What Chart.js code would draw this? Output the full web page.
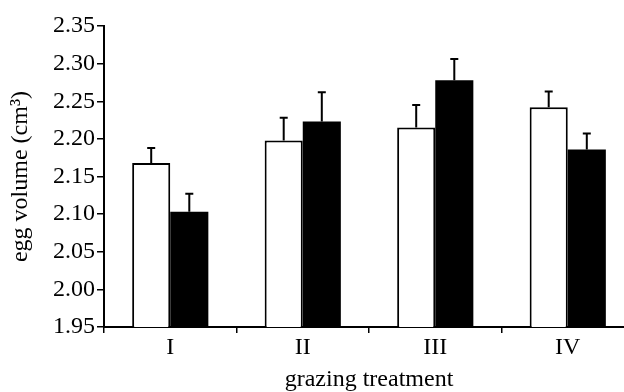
<!DOCTYPE html>
<html>
<head>
<meta charset="utf-8">
<script src="https://cdn.jsdelivr.net/npm/chart.js@4"></script>
<style>
  html, body { margin: 0; padding: 0; background: #fff; overflow: hidden; }
  #wrap { position: absolute; left: 0; top: 0; width: 640px; height: 392px; }
</style>
</head>
<body>
<div id="wrap"><canvas id="eggChart"></canvas></div>
<script>
// grazing treatments on the x axis
const categories = ['I', 'II', 'III', 'IV'];

// open bars and filled bars (means, then upper error)
const openMeans = [2.168, 2.198, 2.215, 2.242];
const openErr = [0.020, 0.030, 0.030, 0.021];
const filledMeans = [2.103, 2.223, 2.278, 2.186];
const filledErr = [0.024, 0.039, 0.028, 0.021];

// y axis range
const yMin = 1.95;
const yMax = 2.35;
const yStep = 0.05;

const FONT = "'Liberation Serif', 'Times New Roman', serif";

// draws the one-sided error bars on top of each bar
const errorBars = {
  id: 'errorBars',
  afterDatasetsDraw(chart) {
    const { ctx, scales: { y } } = chart;
    chart.data.datasets.forEach((ds, di) => {
      const meta = chart.getDatasetMeta(di);
      meta.data.forEach((bar, i) => {
        const top = y.getPixelForValue(ds.data[i] + ds.errors[i]);
        ctx.save();
        ctx.strokeStyle = '#000';
        ctx.lineWidth = 2;
        ctx.beginPath();
        ctx.moveTo(bar.x, bar.y);
        ctx.lineTo(bar.x, top);
        ctx.moveTo(bar.x - 4, top);
        ctx.lineTo(bar.x + 4, top);
        ctx.stroke();
        ctx.restore();
      });
    });
  }
};

const ctx = document.getElementById('eggChart').getContext('2d');

new Chart(ctx, {
  type: 'bar',
  data: {
    labels: categories,
    datasets: [
      {
        label: 'open',
        data: openMeans,
        errors: openErr,
        backgroundColor: '#fff',
        borderColor: '#000',
        borderWidth: 2,
        borderSkipped: 'bottom'
      },
      {
        label: 'filled',
        data: filledMeans,
        errors: filledErr,
        backgroundColor: '#000',
        borderColor: '#000',
        borderWidth: 0
      }
    ]
  },
  options: {
    responsive: true,
    maintainAspectRatio: false,
    animation: false,
    categoryPercentage: 0.575,
    barPercentage: 1.0,
    layout: { padding: { left: 0, right: 6, top: 26, bottom: 0 } },
    plugins: {
      legend: { display: false },
      tooltip: { enabled: false }
    },
    scales: {
      x: {
        grid: {
          offset: true,
          drawOnChartArea: false,
          drawTicks: true,
          tickLength: 6,
          color: '#000',
          lineWidth: 1.5
        },
        border: { color: '#000', width: 2 },
        ticks: {
          color: '#000',
          font: { family: FONT, size: 24 },
          padding: 0,
          maxRotation: 0
        },
        title: {
          display: true,
          text: 'grazing treatment',
          color: '#000',
          font: { family: FONT, size: 24, lineHeight: 1.0 },
          padding: { top: 0, bottom: 0 }
        },
        afterFit: s => { s.height = 65; }
      },
      y: {
        min: yMin,
        max: yMax,
        grid: {
          drawOnChartArea: false,
          drawTicks: true,
          tickLength: 7,
          color: '#000',
          lineWidth: 1.5
        },
        border: { color: '#000', width: 2 },
        ticks: {
          stepSize: yStep,
          color: '#000',
          padding: 2,
          font: { family: FONT, size: 24 },
          callback: v => v.toFixed(2)
        },
        title: {
          display: true,
          text: 'egg volume (cm³)',
          color: '#000',
          font: { family: FONT, size: 24, lineHeight: 1.0 },
          padding: { top: 9, bottom: 0 }
        },
        afterFit: s => { s.width = 104; }
      }
    }
  },
  plugins: [errorBars]
});
</script>
</body>
</html>
